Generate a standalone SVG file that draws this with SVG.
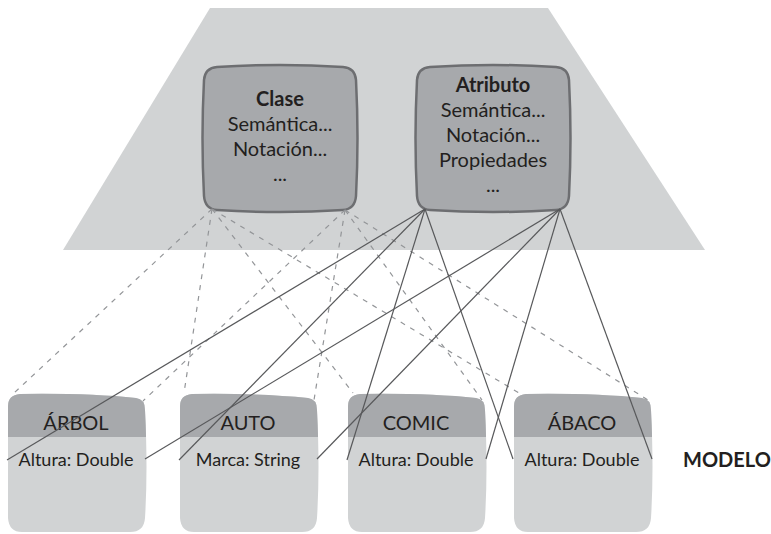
<svg xmlns="http://www.w3.org/2000/svg" xmlns:xlink="http://www.w3.org/1999/xlink" width="771" height="534" viewBox="0 0 771 534">
  <style>
    .plane { fill: #d1d3d4; }
    .meta { fill: #a7a9ac; stroke: #6d6e71; stroke-width: 2.5; }
    .body { fill: #d1d3d4; }
    .head { fill: #a7a9ac; }
    text { font-family: Lato, "Liberation Sans", sans-serif; fill: #231f20; text-anchor: middle; }
    .t-meta { font-size: 20px; }
    .t-bold { font-weight: bold; }
    .t-head { font-size: 20px; }
    .t-attr { font-size: 18px; }
    .t-level { font-size: 20px; font-weight: bold; text-anchor: start; }
    .solid { fill: none; stroke: #58595b; stroke-width: 1.2; }
    .dash { fill: none; stroke: #939598; stroke-width: 1.2; stroke-dasharray: 5 6; }
  </style>
  <defs>
    <!-- metaclass card: rounded, slightly bulging sides -->
    <path id="metaCard" d="M 12,1 Q 75,-3 138,1 Q 150,2 151,14 Q 154,72 151,130 Q 150,143 138,144 Q 75,148 12,144 Q 0,143 -1,130 Q -4,72 -1,14 Q 0,2 12,1 Z"/>
    <!-- model card: top edge sloping down to the right -->
    <path id="modelCard" d="M 0,406 Q 0,395 12,394 Q 80,393 128,398 Q 137,399 137,410 Q 140,470 137,518 Q 136,532 122,532 L 14,532 Q 1,532 0,518 Z"/>
    <clipPath id="modelClip" clipPathUnits="userSpaceOnUse">
      <use xlink:href="#modelCard"/>
    </clipPath>
  </defs>

  <!-- metamodel plane -->
  <polygon class="plane" points="210,8 548,8 705,250 63,250"/>

  <g id="clase" transform="translate(205,66)">
    <use xlink:href="#metaCard" class="meta"/>
    <text class="t-meta t-bold" x="75" y="40">Clase</text>
    <text class="t-meta" x="75" y="65">Semántica...</text>
    <text class="t-meta" x="75" y="90">Notación...</text>
    <text class="t-meta" x="75" y="115">...</text>
  </g>

  <g id="atributo" transform="translate(418,66)">
    <use xlink:href="#metaCard" class="meta"/>
    <text class="t-meta t-bold" x="75" y="26">Atributo</text>
    <text class="t-meta" x="75" y="51">Semántica...</text>
    <text class="t-meta" x="75" y="76">Notación...</text>
    <text class="t-meta" x="75" y="101">Propiedades</text>
    <text class="t-meta" x="75" y="126">...</text>
  </g>

  <g id="arbol" transform="translate(8,0)">
    <use xlink:href="#modelCard" class="body"/>
    <rect class="head" x="-5" y="385" width="150" height="52" clip-path="url(#modelClip)"/>
    <text class="t-head" x="68" y="430">ÁRBOL</text>
    <text class="t-attr" x="68" y="466">Altura: Double</text>
  </g>

  <g id="auto" transform="translate(180,0)">
    <use xlink:href="#modelCard" class="body"/>
    <rect class="head" x="-5" y="385" width="150" height="52" clip-path="url(#modelClip)"/>
    <text class="t-head" x="68" y="430">AUTO</text>
    <text class="t-attr" x="68" y="466">Marca: String</text>
  </g>

  <g id="comic" transform="translate(348,0)">
    <use xlink:href="#modelCard" class="body"/>
    <rect class="head" x="-5" y="385" width="150" height="52" clip-path="url(#modelClip)"/>
    <text class="t-head" x="68" y="430">COMIC</text>
    <text class="t-attr" x="68" y="466">Altura: Double</text>
  </g>

  <g id="abaco" transform="translate(514,0)">
    <use xlink:href="#modelCard" class="body"/>
    <rect class="head" x="-5" y="385" width="150" height="52" clip-path="url(#modelClip)"/>
    <text class="t-head" x="68" y="430">ÁBACO</text>
    <text class="t-attr" x="68" y="466">Altura: Double</text>
  </g>

  <g id="nivel">
    <text class="t-level" x="683" y="467">MODELO</text>
  </g>

  <g id="connectors">
    <!-- instances of Clase -->
    <line class="dash" x1="212" y1="209" x2="14" y2="393"/>
    <line class="dash" x1="212" y1="209" x2="184" y2="393"/>
    <line class="dash" x1="212" y1="209" x2="353" y2="393"/>
    <line class="dash" x1="212" y1="209" x2="519" y2="393"/>
    <line class="dash" x1="345" y1="210" x2="143" y2="401"/>
    <line class="dash" x1="345" y1="210" x2="314" y2="400"/>
    <line class="dash" x1="345" y1="210" x2="482" y2="400"/>
    <line class="dash" x1="345" y1="210" x2="648" y2="400"/>
    <!-- instances of Atributo -->
    <line class="solid" x1="425" y1="209" x2="7" y2="460"/>
    <line class="solid" x1="425" y1="209" x2="179" y2="460"/>
    <line class="solid" x1="425" y1="209" x2="347" y2="460"/>
    <line class="solid" x1="425" y1="209" x2="513" y2="459"/>
    <line class="solid" x1="560" y1="209" x2="145" y2="459"/>
    <line class="solid" x1="560" y1="209" x2="317" y2="459"/>
    <line class="solid" x1="560" y1="209" x2="486" y2="459"/>
    <line class="solid" x1="560" y1="209" x2="652" y2="459"/>
  </g>
</svg>
